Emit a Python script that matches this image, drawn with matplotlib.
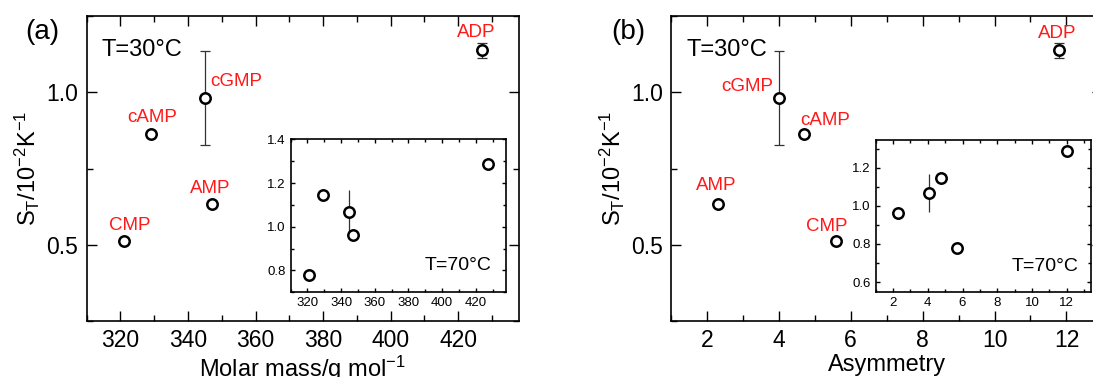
import numpy as np
import matplotlib
matplotlib.use('Agg')
import matplotlib.pyplot as plt
from matplotlib.ticker import MultipleLocator, FormatStrFormatter

plt.rcParams['font.family'] = ['Liberation Sans', 'DejaVu Sans']
plt.rcParams['mathtext.fontset'] = 'custom'
plt.rcParams['mathtext.rm'] = 'Liberation Sans'
plt.rcParams['mathtext.it'] = 'Liberation Sans'

# datos (orden: CMP, cAMP, cGMP, AMP, ADP)
compuestos = ['CMP', 'cAMP', 'cGMP', 'AMP', 'ADP']
masa_molar = [321, 329, 345, 347, 427]
asimetria = [5.6, 4.7, 4.0, 2.3, 11.8]
st_30 = [0.511, 0.864, 0.981, 0.634, 1.138]
err_30 = [0.01, 0.01, 0.155, 0.004, 0.025]

# recuadro T=70 C
asimetria_70 = [5.7, 4.75, 4.05, 2.3, 12.0]
st_70 = [0.778, 1.144, 1.068, 0.963, 1.288]
err_70 = [0.004, 0.01, 0.1, 0.004, 0.01]

# posiciones de las etiquetas rojas (datos)
etq_a = {'CMP': (316.5, 0.562), 'cAMP': (321.9, 0.917), 'cGMP': (346.6, 1.034),
         'AMP': (340.7, 0.683), 'ADP': (419.7, 1.196)}
etq_b = {'CMP': (4.75, 0.559), 'cAMP': (4.6, 0.908), 'cGMP': (3.85, 1.02),
         'AMP': (1.7, 0.694), 'ADP': (11.2, 1.194)}

rojo = '#ff1a1a'
fig = plt.figure(figsize=(10.93, 3.77), dpi=100)


def estilo(ax, fs, lmaj, lmin):
    ax.tick_params(which='both', direction='in', top=True, right=True,
                   labelsize=fs, width=1.0, colors='black')
    ax.tick_params(which='major', length=lmaj)
    ax.tick_params(which='minor', length=lmin)
    for s in ax.spines.values():
        s.set_linewidth(1.2)


def puntos(ax, x, y, e, ms, cap):
    ax.errorbar(x, y, yerr=e, fmt='none', ecolor='#333333', elinewidth=0.9,
                capsize=cap, capthick=0.9, zorder=2)
    ax.plot(x, y, 'o', ms=ms, mfc='white', mec='black', mew=1.8, zorder=3)


ylab = r'S$_\mathregular{T}$/10$^\mathregular{-2}$K$^\mathregular{-1}$'

# ---------- panel (a) ----------
ax1 = fig.add_axes([0.0793, 0.1485, 0.3955, 0.8091])
puntos(ax1, masa_molar, st_30, err_30, 7.5, 3.5)
ax1.set_xlim(310, 438)
ax1.set_ylim(0.25, 1.25)
ax1.xaxis.set_major_locator(MultipleLocator(20))
ax1.xaxis.set_minor_locator(MultipleLocator(10))
ax1.yaxis.set_major_locator(MultipleLocator(0.5))
ax1.yaxis.set_minor_locator(MultipleLocator(0.25))
estilo(ax1, 16.5, 7, 4)
ax1.tick_params(axis='both', which='major', pad=6)
ax1.set_xlabel(r'Molar mass/g mol$^\mathregular{-1}$', fontsize=17, labelpad=1)
ax1.set_ylabel(ylab, fontsize=17, labelpad=3)
for c in compuestos:
    ax1.text(*etq_a[c], c, color=rojo, fontsize=13.5, ha='left', va='center')
ax1.text(0.035, 0.889, 'T=30°C', transform=ax1.transAxes, fontsize=17,
         ha='left', va='center')
fig.text(42.5 / 1093, 1 - 32 / 377, '(a)', fontsize=20, ha='center', va='center')

ins1 = fig.add_axes([0.2658, 0.2247, 0.1972, 0.4058])
puntos(ins1, masa_molar, st_70, err_70, 7.5, 0)
ins1.set_xlim(310, 438)
ins1.set_ylim(0.7, 1.4)
ins1.xaxis.set_major_locator(MultipleLocator(20))
ins1.xaxis.set_minor_locator(MultipleLocator(10))
ins1.yaxis.set_major_locator(MultipleLocator(0.2))
ins1.yaxis.set_minor_locator(MultipleLocator(0.1))
estilo(ins1, 9.5, 3, 2)
ins1.yaxis.set_major_formatter(FormatStrFormatter('%.1f'))
ins1.text(0.931, 0.178, 'T=70°C', transform=ins1.transAxes, fontsize=14,
          ha='right', va='center')

# ---------- panel (b) ----------
ax2 = fig.add_axes([0.6139, 0.1485, 0.3947, 0.8091])
puntos(ax2, asimetria, st_30, err_30, 7.5, 3.5)
ax2.set_xlim(1, 13)
ax2.set_ylim(0.25, 1.25)
ax2.xaxis.set_major_locator(MultipleLocator(2))
ax2.xaxis.set_minor_locator(MultipleLocator(1))
ax2.yaxis.set_major_locator(MultipleLocator(0.5))
ax2.yaxis.set_minor_locator(MultipleLocator(0.25))
estilo(ax2, 16.5, 7, 4)
ax2.tick_params(axis='both', which='major', pad=6)
ax2.set_xlabel('Asymmetry', fontsize=17, labelpad=1)
ax2.set_ylabel(ylab, fontsize=17, labelpad=3)
for c in compuestos:
    ha = 'right' if c == 'cGMP' else 'left'
    ax2.text(*etq_b[c], c, color=rojo, fontsize=13.5, ha=ha, va='center')
ax2.text(0.037, 0.889, 'T=30°C', transform=ax2.transAxes, fontsize=17,
         ha='left', va='center')
fig.text(628 / 1093, 1 - 32 / 377, '(b)', fontsize=20, ha='center', va='center')

ins2 = fig.add_axes([0.8011, 0.2247, 0.1968, 0.404])
puntos(ins2, asimetria_70, st_70, err_70, 7.5, 0)
ins2.set_xlim(1, 13.37)
ins2.set_ylim(0.547, 1.345)
ins2.xaxis.set_major_locator(MultipleLocator(2))
ins2.xaxis.set_minor_locator(MultipleLocator(1))
ins2.yaxis.set_major_locator(MultipleLocator(0.2))
ins2.yaxis.set_minor_locator(MultipleLocator(0.1))
estilo(ins2, 9.5, 3, 2)
ins2.yaxis.set_major_formatter(FormatStrFormatter('%.1f'))
ins2.text(0.945, 0.167, 'T=70°C', transform=ins2.transAxes, fontsize=14,
          ha='right', va='center')

fig.savefig('out.png', dpi=100)
